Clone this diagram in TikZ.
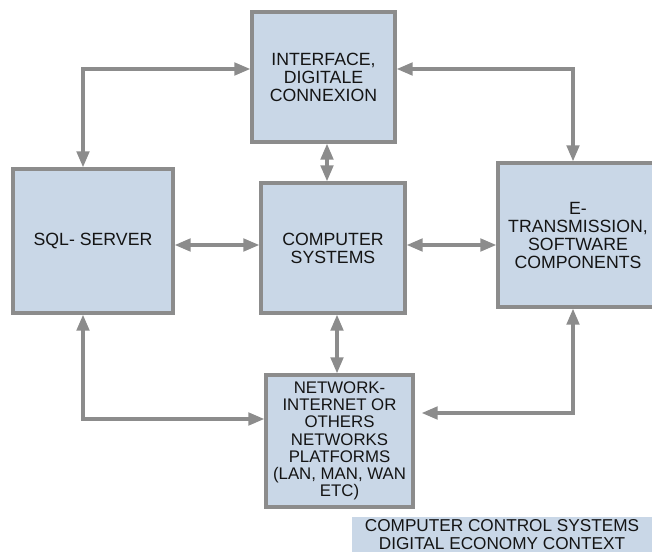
\documentclass[tikz,border=0pt]{standalone}
\usepackage{fontspec}
\setmainfont{Liberation Sans}
\usetikzlibrary{arrows.meta}
\definecolor{linegray}{RGB}{140,140,140}
\definecolor{boxfill}{RGB}{201,215,231}
\definecolor{txt}{RGB}{20,20,20}
\tikzset{
  blockbox/.style={draw=linegray, line width=3.3pt, fill=boxfill, inner sep=0pt,
    align=center, text=txt, font=\fontsize{17.7}{18}\selectfont},
  conn/.style={draw=linegray, line width=3.3pt,
    {Triangle[length=16pt,width=12.5pt]}-{Triangle[length=16pt,width=12.5pt]}},
}
\begin{document}
\begin{tikzpicture}[x=1pt,y=-1pt]
\useasboundingbox (0,0) rectangle (652,553);
\clip (0,0) rectangle (652,553);
\fill[white] (0,0) rectangle (652,553);

\node[blockbox, minimum width=143pt, minimum height=130pt] (intf) at (323.5,77) {INTERFACE,\\DIGITALE\\CONNEXION};
\node[blockbox, minimum width=160pt, minimum height=144pt] (sql) at (93,241) {SQL- SERVER};
\node[blockbox, minimum width=144pt, minimum height=130pt] (comp) at (333,248) {COMPUTER\\SYSTEMS};
\node[blockbox, minimum width=160pt, minimum height=144pt] (etr) at (578,235) {E-\\TRANSMISSION,\\SOFTWARE\\COMPONENTS};
\node[blockbox, minimum width=147pt, minimum height=132pt, font=\fontsize{16.8}{17.2}\selectfont] (net) at (339.5,441)
  {NETWORK-\\INTERNET OR\\OTHERS\\NETWORKS\\PLATFORMS\\(LAN, MAN, WAN\\ETC)};

\node[fill=boxfill, text=txt, anchor=south, minimum width=300pt, inner xsep=0pt, inner ysep=2.5pt,
  align=center, font=\fontsize{17.2}{17.8}\selectfont] (cap) at (502,552.5)
  {COMPUTER CONTROL SYSTEMS\\DIGITAL ECONOMY CONTEXT};

% connectors
\draw[conn] ([xshift=-10pt]sql.north) |- ([yshift=8pt]intf.west);
\draw[conn] ([yshift=8pt]intf.east) -| ([xshift=-5pt]etr.north);
\draw[conn] ([xshift=3.5pt]intf.south) -- ([xshift=3.5pt]intf.south |- comp.north);
\draw[conn] ([yshift=-4pt]sql.east) -- ([yshift=-4pt]sql.east -| comp.west);
\draw[conn] ([yshift=3pt]comp.east) -- ([yshift=3pt]comp.east -| etr.west);
\draw[conn] ([xshift=4pt]comp.south) -- ([xshift=4pt]comp.south |- net.north);
\draw[conn] ([xshift=-10pt]sql.south) |- ([yshift=22pt]net.west);
\draw[conn, shorten <=7pt] ([yshift=28pt]net.east) -| ([xshift=-5pt]etr.south);
\end{tikzpicture}
\end{document}
